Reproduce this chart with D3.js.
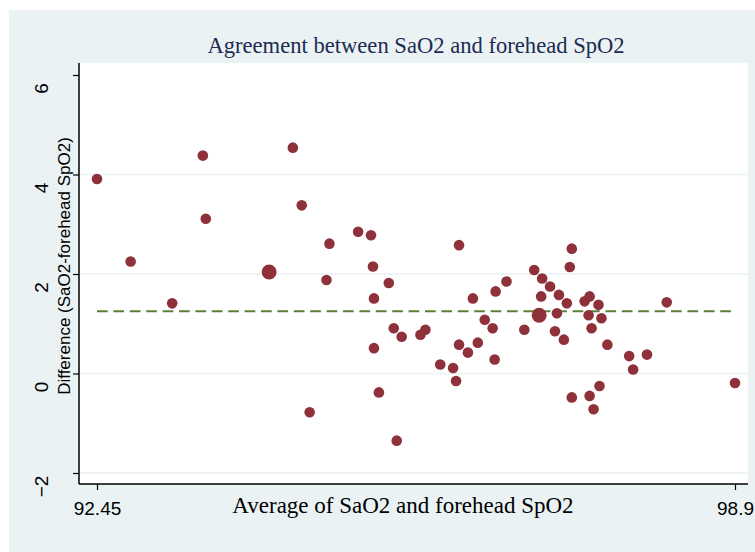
<!DOCTYPE html>
<html>
<head>
<meta charset="utf-8">
<script src="https://cdn.jsdelivr.net/npm/d3@7"></script>
<style>
  html, body { margin: 0; padding: 0; background: #ffffff; }
  svg { display: block; }
</style>
</head>
<body>
<script>
// ---- Data ----
const avgValues = [92.45, 92.79, 93.21, 93.52, 93.55, 94.19, 94.43, 94.52, 94.60, 94.77,
  94.80, 95.09, 95.22, 95.24, 95.25, 95.25, 95.30, 95.40, 95.45, 95.48,
  95.53, 95.72, 95.77, 95.92, 96.05, 96.08, 96.11, 96.11, 96.20, 96.25,
  96.30, 96.37, 96.45, 96.47, 96.48, 96.59, 96.77, 96.87, 96.92, 96.94,
  96.95, 97.03, 97.08, 97.10, 97.12, 97.17, 97.20, 97.23, 97.25, 97.25,
  97.38, 97.42, 97.43, 97.43, 97.45, 97.47, 97.52, 97.53, 97.55, 97.61,
  97.83, 97.87, 98.01, 98.21, 98.90];
const diffValues = [3.91, 2.25, 1.41, 4.38, 3.11, 2.04, 4.54, 3.38, -0.78, 1.88,
  2.61, 2.85, 2.78, 2.15, 1.51, 0.51, -0.38, 1.82, 0.91, -1.35,
  0.74, 0.78, 0.88, 0.18, 0.11, -0.15, 2.58, 0.58, 0.42, 1.51,
  0.62, 1.08, 0.91, 0.28, 1.65, 1.85, 0.88, 2.08, 1.17, 1.55,
  1.91, 1.75, 0.85, 1.21, 1.58, 0.68, 1.41, 2.14, 2.51, -0.48,
  1.45, 1.17, 1.55, -0.45, 0.91, -0.72, 1.38, -0.25, 1.11, 0.58,
  0.35, 0.08, 0.38, 1.43, -0.19];
const weightValues = [1, 1, 1, 1, 1, 2, 1, 1, 1, 1,
  1, 1, 1, 1, 1, 1, 1, 1, 1, 1,
  1, 1, 1, 1, 1, 1, 1, 1, 1, 1,
  1, 1, 1, 1, 1, 1, 1, 1, 2, 1,
  1, 1, 1, 1, 1, 1, 1, 1, 1, 1,
  1, 1, 1, 1, 1, 1, 1, 1, 1, 1,
  1, 1, 1, 1, 1];
const meanDiff = [1.25];
const yTicks = [-2, 0, 2, 4, 6];
const yGridTicks = [-2, 0, 2, 4];
const xTicks = [92.45, 98.9];
const xTickLabels = ["92.45", "98.9"];
const titleText = "Agreement between SaO2 and forehead SpO2";
const xTitleText = "Average of SaO2 and forehead SpO2";
const yTitleText = "Difference (SaO2-forehead SpO2)";

// ---- Layout ----
const W = 755, H = 552;
const plot = { left: 79, right: 748, top: 63, bottom: 484 };

const svg = d3.select("body").append("svg").attr("width", W).attr("height", H);

// outer background
svg.append("rect").attr("x", 9).attr("y", 10).attr("width", W - 9).attr("height", H - 10)
  .attr("fill", "#EAF2F3");
// plot region
svg.append("rect").attr("x", plot.left).attr("y", plot.top)
  .attr("width", plot.right - plot.left).attr("height", plot.bottom - plot.top)
  .attr("fill", "#ffffff");

const x = d3.scaleLinear().domain([92.45, 98.9]).range([97, 735]);
const y = d3.scaleLinear().domain([-2, 6]).range([473, 75]);
const r = d3.scaleSqrt().domain([0, 1]).range([0, 5.3]);

// grid lines
svg.append("g").selectAll("line").data(yGridTicks).join("line")
  .attr("x1", plot.left).attr("x2", plot.right)
  .attr("y1", d => y(d)).attr("y2", d => y(d))
  .attr("stroke", "#EAF2F3").attr("stroke-width", 1.6);

// mean difference line
svg.append("g").selectAll("line").data(meanDiff).join("line")
  .attr("x1", x(xTicks[0])).attr("x2", x(xTicks[1]))
  .attr("y1", d => y(d)).attr("y2", d => y(d))
  .attr("stroke", "#5E7F36").attr("stroke-width", 2)
  .attr("stroke-dasharray", "10.7,5.7");

// points
const pts = avgValues.map((a, i) => ({ a, d: diffValues[i], w: weightValues[i] }));
svg.append("g").selectAll("circle").data(pts).join("circle")
  .attr("cx", p => x(p.a)).attr("cy", p => y(p.d)).attr("r", p => r(p.w))
  .attr("fill", "#8E313A");

// y axis
const yAxis = d3.axisLeft(y).tickValues(yTicks).tickSize(6).tickPadding(0).tickFormat(d3.format("d"));
const gy = svg.append("g").attr("transform", `translate(${plot.left},0)`).call(yAxis);
gy.select(".domain").remove();
gy.selectAll(".tick line").attr("stroke", "#000").attr("stroke-width", 1.2);
gy.selectAll(".tick text")
  .attr("x", 0).attr("y", 0).attr("dy", "0")
  .attr("transform", "translate(-31,13) rotate(-90)")
  .attr("text-anchor", "middle")
  .style("font-family", "Liberation Sans, Arial, sans-serif")
  .style("font-size", "19px")
  .attr("fill", "#000");
svg.append("line").attr("x1", plot.left).attr("x2", plot.left)
  .attr("y1", plot.top).attr("y2", plot.bottom).attr("stroke", "#000").attr("stroke-width", 1.5);

// x axis
const xAxis = d3.axisBottom(x).tickValues(xTicks).tickSize(6).tickPadding(4)
  .tickFormat((d, i) => xTickLabels[i]);
const gx = svg.append("g").attr("transform", `translate(0,${plot.bottom})`).call(xAxis);
gx.select(".domain").remove();
gx.selectAll(".tick line").attr("stroke", "#000").attr("stroke-width", 1.2);
gx.selectAll(".tick text")
  .attr("y", 31).attr("dy", "0")
  .style("font-family", "Liberation Sans, Arial, sans-serif")
  .style("font-size", "19px")
  .attr("fill", "#000");
svg.append("line").attr("x1", plot.left).attr("x2", plot.right)
  .attr("y1", plot.bottom).attr("y2", plot.bottom).attr("stroke", "#000").attr("stroke-width", 1.5);

// titles
svg.append("text").attr("x", 416).attr("y", 53).attr("text-anchor", "middle")
  .style("font-family", "Liberation Serif, Times New Roman, serif")
  .style("font-size", "22.6px").attr("fill", "#1E2B52").text(titleText);
svg.append("text").attr("x", 403).attr("y", 513).attr("text-anchor", "middle")
  .style("font-family", "Liberation Serif, Times New Roman, serif")
  .style("font-size", "23px").attr("fill", "#000").text(xTitleText);
svg.append("text").attr("transform", "translate(70,266) rotate(-90)").attr("text-anchor", "middle")
  .style("font-family", "Liberation Sans, Arial, sans-serif")
  .style("font-size", "17px").attr("fill", "#000").text(yTitleText);
</script>
</body>
</html>
